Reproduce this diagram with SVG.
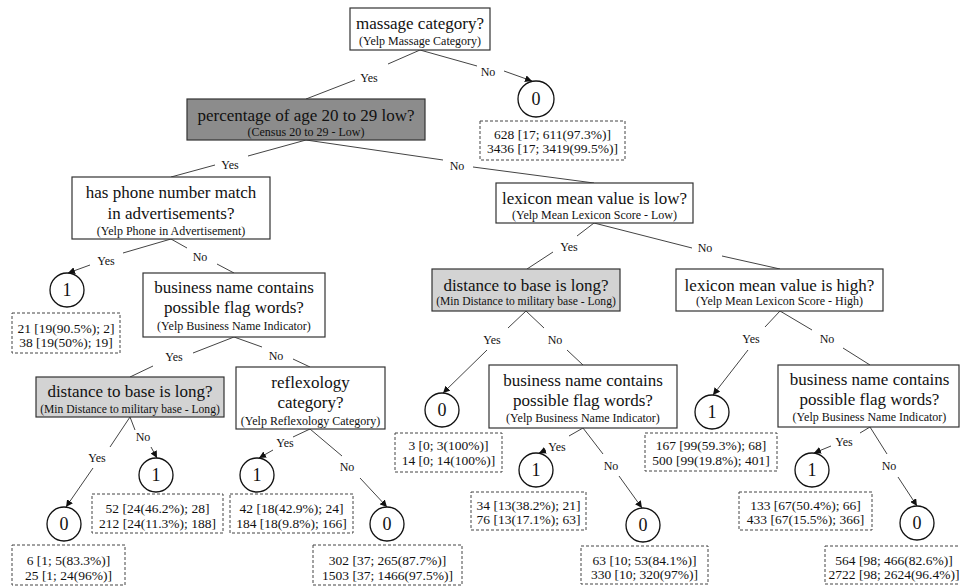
<svg xmlns="http://www.w3.org/2000/svg" width="960" height="587" viewBox="0 0 960 587">
<style>
text{font-family:"Liberation Serif","Times New Roman",serif;fill:#111;text-anchor:middle}
.q{font-size:17px}
.s{font-size:12px}
.sg{font-size:11.6px}
.lab{font-size:12px}
.leaf{font-size:13.5px}
.num{font-size:18px}
.box{fill:#fff;stroke:#333;stroke-width:1.2}
.dark{fill:#8c8c8c;stroke:#333;stroke-width:1.2}
.light{fill:#d3d3d3;stroke:#333;stroke-width:1.2}
.circ{fill:#fff;stroke:#111;stroke-width:1.3}
.dash{fill:#fff;stroke:#444;stroke-width:1;stroke-dasharray:3,2}
.e{stroke:#444;stroke-width:1;fill:none}
.a{marker-end:url(#arr)}
</style>
<defs>
<marker id="arr" viewBox="0 0 10 10" refX="10" refY="5" markerWidth="7" markerHeight="7" markerUnits="userSpaceOnUse" orient="auto">
<path d="M0,0 L10,5 L0,10 z" fill="#111"/>
</marker>
</defs>
<rect width="960" height="587" fill="#fff"/>

<g id="connectors">
<line class="e" x1="420" y1="50" x2="388" y2="64"/><line class="e" x1="355" y1="80" x2="306" y2="99"/>
<line class="e" x1="420" y1="50" x2="477" y2="66"/><line class="e a" x1="504" y1="71" x2="532" y2="81"/>
<line class="e" x1="306" y1="140" x2="248" y2="156"/><line class="e" x1="215" y1="165" x2="171" y2="177"/>
<line class="e" x1="306" y1="140" x2="443" y2="160"/><line class="e" x1="473" y1="167" x2="594" y2="183"/>
<line class="e" x1="171" y1="239" x2="123" y2="253"/><line class="e a" x1="90" y1="265" x2="68" y2="273"/>
<line class="e" x1="171" y1="239" x2="187" y2="248"/><line class="e" x1="217" y1="264" x2="234" y2="273"/>
<line class="e" x1="594" y1="223" x2="577" y2="236"/><line class="e" x1="553" y1="252" x2="527" y2="269"/>
<line class="e" x1="594" y1="223" x2="692" y2="248"/><line class="e" x1="722" y1="256" x2="780" y2="269"/>
<line class="e" x1="234" y1="337" x2="193" y2="353"/><line class="e" x1="153" y1="366" x2="130" y2="377"/>
<line class="e" x1="234" y1="337" x2="262" y2="347"/><line class="e" x1="293" y1="359" x2="310" y2="367"/>
<line class="e" x1="130" y1="417" x2="110" y2="447"/><line class="e a" x1="93" y1="468" x2="66" y2="507"/>
<line class="e" x1="130" y1="417" x2="135" y2="430"/><line class="e a" x1="151" y1="447" x2="157" y2="458"/>
<line class="e" x1="310" y1="429" x2="293" y2="437"/><line class="e a" x1="273" y1="450" x2="259" y2="458"/>
<line class="e" x1="310" y1="429" x2="342" y2="456"/><line class="e a" x1="360" y1="478" x2="387" y2="507"/>
<line class="e" x1="526" y1="311" x2="508" y2="328"/><line class="e a" x1="487" y1="350" x2="443" y2="393"/>
<line class="e" x1="526" y1="311" x2="544" y2="328"/><line class="e" x1="567" y1="350" x2="583" y2="365"/>
<line class="e" x1="583" y1="428" x2="569" y2="436"/><line class="e a" x1="546" y1="450" x2="539" y2="453"/>
<line class="e" x1="583" y1="428" x2="603" y2="454"/><line class="e a" x1="619" y1="476" x2="642" y2="508"/>
<line class="e" x1="780" y1="311" x2="765" y2="327"/><line class="e a" x1="748" y1="350" x2="713" y2="395"/>
<line class="e" x1="780" y1="311" x2="812" y2="330"/><line class="e" x1="843" y1="348" x2="870" y2="365"/>
<line class="e" x1="870" y1="427" x2="860" y2="433"/><line class="e a" x1="831" y1="446" x2="814" y2="453"/>
<line class="e" x1="870" y1="427" x2="887" y2="454"/><line class="e a" x1="898" y1="477" x2="917" y2="506"/>
</g>

<g id="edge-labels">
<text class="lab" x="369" y="82">Yes</text>
<text class="lab" x="488" y="76">No</text>
<text class="lab" x="230" y="169">Yes</text>
<text class="lab" x="457" y="170">No</text>
<text class="lab" x="106" y="265">Yes</text>
<text class="lab" x="200" y="261">No</text>
<text class="lab" x="569" y="251">Yes</text>
<text class="lab" x="705" y="252">No</text>
<text class="lab" x="174" y="361">Yes</text>
<text class="lab" x="276" y="360">No</text>
<text class="lab" x="97" y="462">Yes</text>
<text class="lab" x="143" y="441">No</text>
<text class="lab" x="285" y="447">Yes</text>
<text class="lab" x="347" y="471">No</text>
<text class="lab" x="492" y="344">Yes</text>
<text class="lab" x="555" y="344">No</text>
<text class="lab" x="557" y="451">Yes</text>
<text class="lab" x="611" y="470">No</text>
<text class="lab" x="751" y="343">Yes</text>
<text class="lab" x="827" y="343">No</text>
<text class="lab" x="844" y="446">Yes</text>
<text class="lab" x="889" y="470">No</text>
</g>

<g id="n-root">
<rect class="box" x="350" y="8" width="140" height="42"/>
<text class="q" x="420" y="29">massage category?</text>
<text class="s" x="420" y="45">(Yelp Massage Category)</text>
</g>
<g id="n-census">
<rect class="dark" x="187" y="99" width="238" height="41"/>
<text class="q" x="306" y="121">percentage of age 20 to 29 low?</text>
<text class="s" x="306" y="136">(Census 20 to 29 - Low)</text>
</g>
<g id="n-phone">
<rect class="box" x="72" y="177" width="198" height="62"/>
<text class="q" x="171" y="198">has phone number match</text>
<text class="q" x="171" y="219">in advertisements?</text>
<text class="s" x="171" y="235">(Yelp Phone in Advertisement)</text>
</g>
<g id="n-lexlow">
<rect class="box" x="496" y="183" width="197" height="40"/>
<text class="q" x="594.5" y="204">lexicon mean value is low?</text>
<text class="s" x="594.5" y="219">(Yelp Mean Lexicon Score - Low)</text>
</g>
<g id="n-dist-mid">
<rect class="light" x="432" y="269" width="188" height="42"/>
<text class="q" x="526" y="291">distance to base is long?</text>
<text class="sg" x="526" y="305">(Min Distance to military base - Long)</text>
</g>
<g id="n-lexhigh">
<rect class="box" x="676" y="269" width="207" height="42"/>
<text class="q" x="779.5" y="291">lexicon mean value is high?</text>
<text class="s" x="779.5" y="305">(Yelp Mean Lexicon Score - High)</text>
</g>
<g id="n-bname-left">
<rect class="box" x="143" y="273" width="182" height="64"/>
<text class="q" x="234" y="293">business name contains</text>
<text class="q" x="234" y="313">possible flag words?</text>
<text class="s" x="234" y="330">(Yelp Business Name Indicator)</text>
</g>
<g id="n-dist-left">
<rect class="light" x="36" y="377" width="188" height="40"/>
<text class="q" x="130" y="397">distance to base is long?</text>
<text class="sg" x="130" y="413">(Min Distance to military base - Long)</text>
</g>
<g id="n-reflex">
<rect class="box" x="236" y="367" width="149" height="62"/>
<text class="q" x="310.5" y="388">reflexology</text>
<text class="q" x="310.5" y="408">category?</text>
<text class="s" x="310.5" y="425">(Yelp Reflexology Category)</text>
</g>
<g id="n-bname-mid">
<rect class="box" x="489" y="365" width="188" height="63"/>
<text class="q" x="583" y="386">business name contains</text>
<text class="q" x="583" y="406">possible flag words?</text>
<text class="s" x="583" y="422">(Yelp Business Name Indicator)</text>
</g>
<g id="n-bname-right">
<rect class="box" x="778" y="365" width="181" height="62"/>
<text class="q" x="869.5" y="385">business name contains</text>
<text class="q" x="869.5" y="405">possible flag words?</text>
<text class="s" x="869.5" y="421">(Yelp Business Name Indicator)</text>
</g>

<g id="leaf-root-no">
<circle class="circ" cx="536" cy="99" r="18"/><text class="num" x="536" y="105">0</text>
<rect class="dash" x="480" y="121" width="145" height="39"/>
<text class="leaf" x="552.5" y="139">628 [17; 611(97.3%)]</text>
<text class="leaf" x="552.5" y="153">3436 [17; 3419(99.5%)]</text>
</g>
<g id="leaf-phone-yes">
<circle class="circ" cx="67" cy="290" r="17"/><text class="num" x="67" y="296">1</text>
<rect class="dash" x="12" y="313" width="108" height="40"/>
<text class="leaf" x="66" y="333">21 [19(90.5%); 2]</text>
<text class="leaf" x="66" y="347">38 [19(50%); 19]</text>
</g>
<g id="leaf-distl-yes">
<circle class="circ" cx="64" cy="524" r="17"/><text class="num" x="64" y="530">0</text>
<rect class="dash" x="12" y="545" width="113" height="40"/>
<text class="leaf" x="68.5" y="565">6 [1; 5(83.3%)]</text>
<text class="leaf" x="68.5" y="580">25 [1; 24(96%)]</text>
</g>
<g id="leaf-distl-no">
<circle class="circ" cx="156" cy="475" r="17"/><text class="num" x="156" y="481">1</text>
<rect class="dash" x="92" y="494" width="131" height="39"/>
<text class="leaf" x="157.5" y="513">52 [24(46.2%); 28]</text>
<text class="leaf" x="157.5" y="528">212 [24(11.3%); 188]</text>
</g>
<g id="leaf-reflex-yes">
<circle class="circ" cx="257" cy="475" r="17"/><text class="num" x="257" y="481">1</text>
<rect class="dash" x="230" y="494" width="123" height="39"/>
<text class="leaf" x="291.5" y="513">42 [18(42.9%); 24]</text>
<text class="leaf" x="291.5" y="528">184 [18(9.8%); 166]</text>
</g>
<g id="leaf-reflex-no">
<circle class="circ" cx="387" cy="524" r="17"/><text class="num" x="387" y="530">0</text>
<rect class="dash" x="313" y="545" width="149" height="40"/>
<text class="leaf" x="387.5" y="565">302 [37; 265(87.7%)]</text>
<text class="leaf" x="387.5" y="580">1503 [37; 1466(97.5%)]</text>
</g>
<g id="leaf-distm-yes">
<circle class="circ" cx="442" cy="410" r="17"/><text class="num" x="442" y="416">0</text>
<rect class="dash" x="395" y="433" width="107" height="39"/>
<text class="leaf" x="448.5" y="450">3 [0; 3(100%)]</text>
<text class="leaf" x="448.5" y="465">14 [0; 14(100%)]</text>
</g>
<g id="leaf-bnm-yes">
<circle class="circ" cx="536" cy="470" r="17"/><text class="num" x="536" y="476">1</text>
<rect class="dash" x="471" y="492" width="115" height="38"/>
<text class="leaf" x="528.5" y="510">34 [13(38.2%); 21]</text>
<text class="leaf" x="528.5" y="524">76 [13(17.1%); 63]</text>
</g>
<g id="leaf-bnm-no">
<circle class="circ" cx="643" cy="525" r="17"/><text class="num" x="643" y="531">0</text>
<rect class="dash" x="581" y="546" width="127" height="38"/>
<text class="leaf" x="644.5" y="565">63 [10; 53(84.1%)]</text>
<text class="leaf" x="644.5" y="579">330 [10; 320(97%)]</text>
</g>
<g id="leaf-lexh-yes">
<circle class="circ" cx="712" cy="412" r="17"/><text class="num" x="712" y="418">1</text>
<rect class="dash" x="645" y="433" width="132" height="38"/>
<text class="leaf" x="711" y="450">167 [99(59.3%); 68]</text>
<text class="leaf" x="711" y="465">500 [99(19.8%); 401]</text>
</g>
<g id="leaf-bnr-yes">
<circle class="circ" cx="812" cy="470" r="17"/><text class="num" x="812" y="476">1</text>
<rect class="dash" x="739" y="492" width="133" height="38"/>
<text class="leaf" x="805.5" y="510">133 [67(50.4%); 66]</text>
<text class="leaf" x="805.5" y="524">433 [67(15.5%); 366]</text>
</g>
<g id="leaf-bnr-no">
<circle class="circ" cx="917" cy="523" r="17"/><text class="num" x="917" y="529">0</text>
<rect class="dash" x="825" y="546" width="140" height="38"/>
<text class="leaf" x="894" y="565">564 [98; 466(82.6%)]</text>
<text class="leaf" x="894" y="579">2722 [98; 2624(96.4%)]</text>
</g>
</svg>
